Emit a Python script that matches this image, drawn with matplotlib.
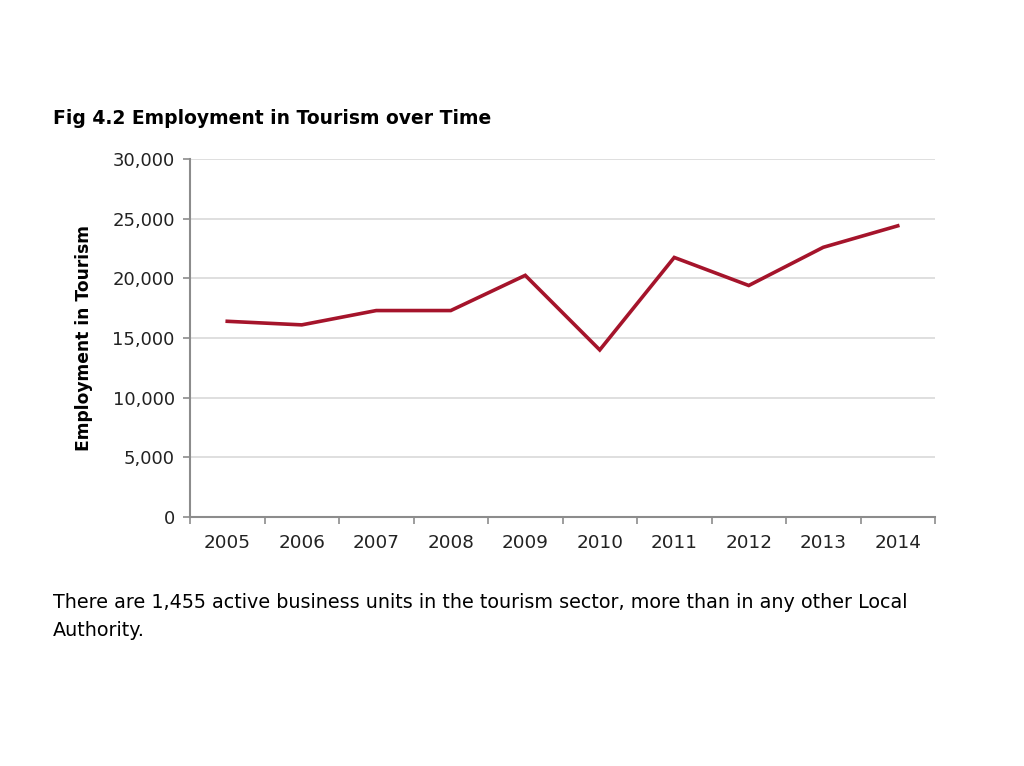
import numpy as np
import matplotlib.pyplot as plt
from matplotlib.ticker import FuncFormatter, FixedLocator

plt.rcParams['font.family'] = ['DejaVu Sans']

# ==============================
# DATA
# ==============================
years = ["2005", "2006", "2007", "2008", "2009", "2010", "2011", "2012", "2013", "2014"]
employment = [16400, 16100, 17300, 17300, 20250, 14000, 21750, 19400, 22600, 24400]
y_ticks = [0, 5000, 10000, 15000, 20000, 25000, 30000]

LINE_COLOR = "#A5142B"
AXIS_COLOR = "#8C8C8C"
GRID_COLOR = "#D9D9D9"

fig = plt.figure(figsize=(10.24, 7.66), dpi=100)
ax = fig.add_axes([190 / 1024, 1 - 517 / 766, (935 - 190) / 1024, (517 - 159) / 766])

x = np.arange(len(years))
ax.plot(x, employment, color=LINE_COLOR, linewidth=2.6, solid_joinstyle="miter", zorder=3)

ax.set_xlim(-0.5, len(years) - 0.5)
ax.set_ylim(0, 30000)

# category axis: labels centred, tick marks between categories
ax.set_xticks(x)
ax.set_xticklabels(years)
ax.xaxis.set_minor_locator(FixedLocator(np.arange(-0.5, len(years), 1.0)))
ax.tick_params(axis="x", which="major", length=0, pad=12, labelsize=13.2, labelcolor="#222222")
ax.tick_params(axis="x", which="minor", length=5, width=1.2, color=AXIS_COLOR)

ax.set_yticks(y_ticks)
ax.yaxis.set_major_formatter(FuncFormatter(lambda v, p: f"{int(v):,}"))
ax.tick_params(axis="y", length=5, width=1.2, color=AXIS_COLOR, pad=6, labelsize=13,
               labelcolor="#222222")

ax.grid(axis="y", color=GRID_COLOR, linewidth=1.2, zorder=0)
ax.set_axisbelow(True)

for s in ("top", "right"):
    ax.spines[s].set_visible(False)
for s in ("left", "bottom"):
    ax.spines[s].set_color(AXIS_COLOR)
    ax.spines[s].set_linewidth(1.5)

ax.set_ylabel("Employment in Tourism", fontsize=12.3, fontweight="bold", labelpad=10)
ax.yaxis.set_label_coords(-0.13, 0.5)

fig.text(53 / 1024, 1 - 118 / 766, "Fig 4.2 Employment in Tourism over Time",
         fontsize=13.5, fontweight="bold", va="center", ha="left")
fig.text(53 / 1024, 1 - 603 / 766,
         "There are 1,455 active business units in the tourism sector, more than in any other Local",
         fontsize=13.8, va="center", ha="left")
fig.text(53 / 1024, 1 - 630 / 766, "Authority.", fontsize=13.8, va="center", ha="left")

fig.savefig("out.png", dpi=100)
